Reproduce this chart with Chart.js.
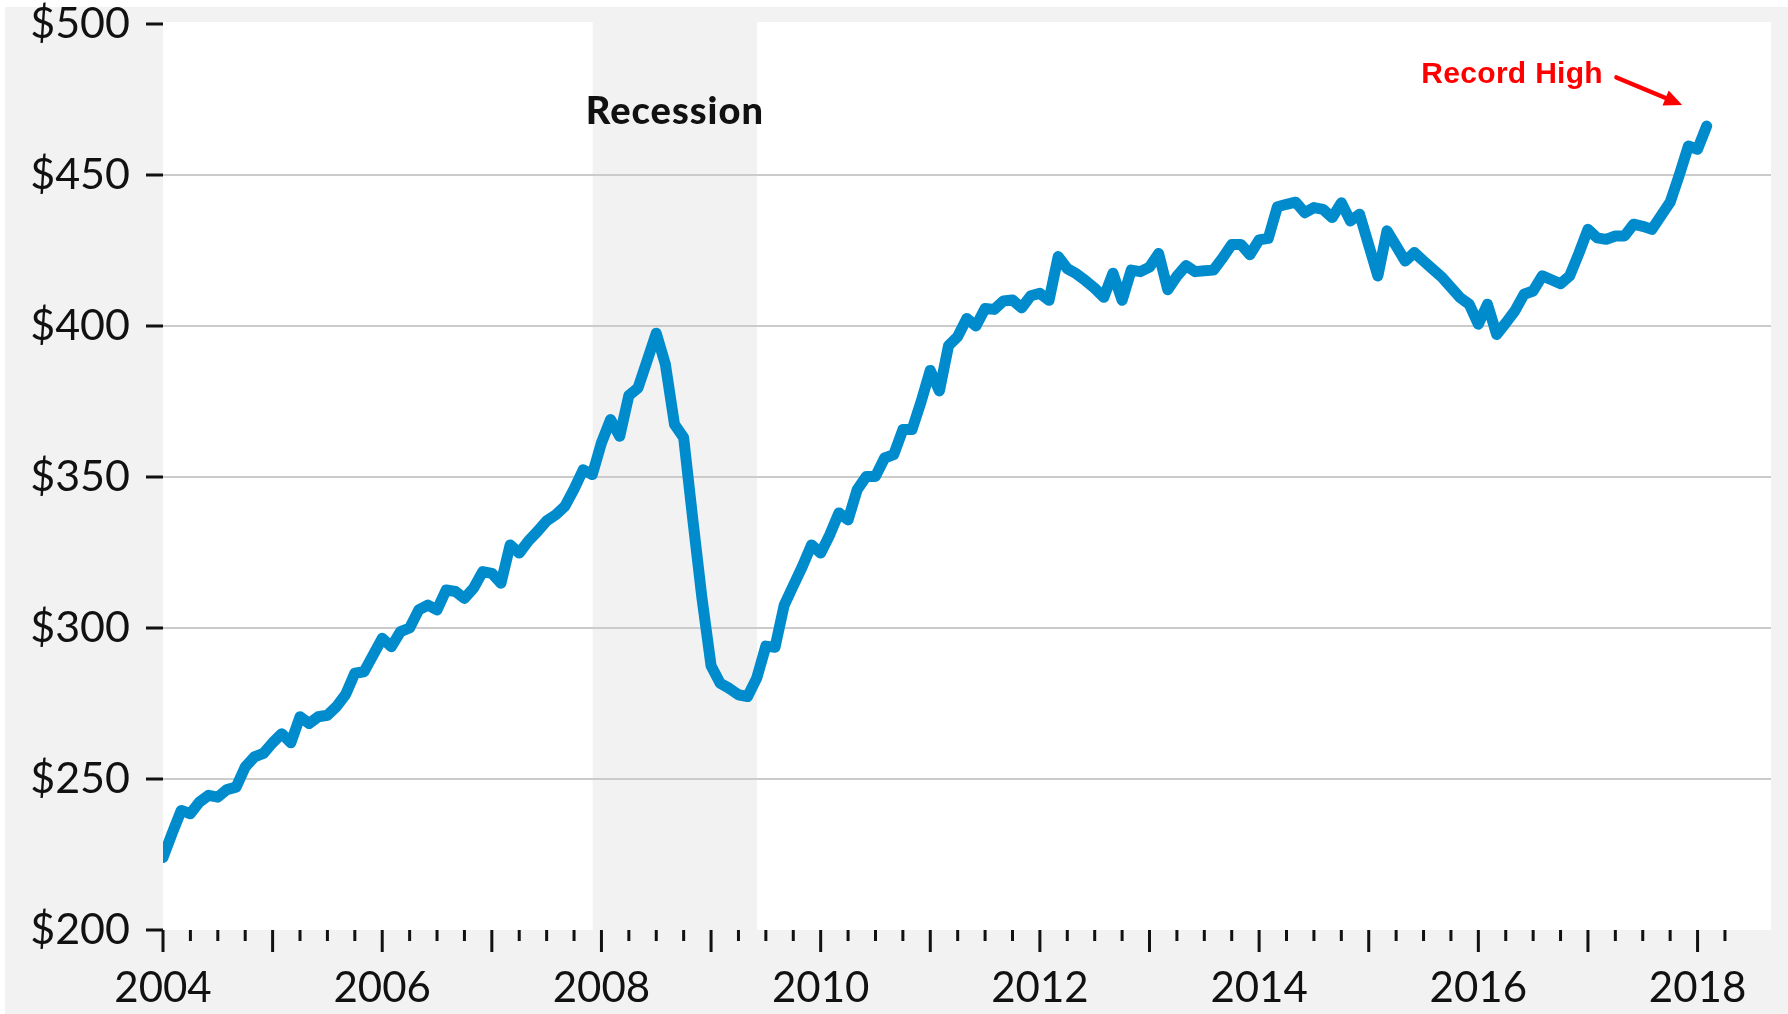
<!DOCTYPE html>
<html>
<head>
<meta charset="utf-8">
<script src="https://cdn.jsdelivr.net/npm/chart.js@4.4.1/dist/chart.umd.min.js"></script>
<style>
  html, body { margin: 0; padding: 0; background: #fff; }
</style>
</head>
<body>
<canvas id="myChart" width="1788" height="1014"></canvas>
<script>
// monthly values, Jan 2004 - Feb 2018
const startYear = 2004;
const p2004 = [224, 232, 239.6, 238.5, 242.4, 244.6, 244, 246.5, 247.3, 254, 257.3, 258.5];
const p2005 = [262, 265, 262, 270.6, 268.4, 270.6, 271.1, 274, 278, 285, 285.5, 291];
const p2006 = [296.6, 293.8, 298.8, 300, 306, 307.6, 306, 312.6, 312.1, 309.8, 313.2, 318.7];
const p2007 = [318.1, 314.8, 327.5, 324.8, 328.8, 332, 335.5, 337.5, 340.3, 346, 352.4, 350.8];
const p2008 = [361.3, 369, 363.5, 377, 379.5, 388.5, 397.6, 387.3, 367.4, 363, 336, 310];
const p2009 = [287.5, 281.7, 280, 277.9, 277.3, 283.4, 294, 293.6, 307.5, 314, 320.4, 327.5];
const p2010 = [324.8, 330.9, 338.1, 335.8, 345.8, 350.2, 350.2, 356.3, 357.4, 365.7, 365.7, 375];
const p2011 = [385.3, 378.5, 393.5, 396.5, 402.5, 400, 405.8, 405.5, 408.3, 408.6, 406, 410];
const p2012 = [410.8, 408.5, 423, 419, 417.3, 415, 412.5, 409.5, 417.5, 408.5, 418.5, 418];
const p2013 = [419.5, 424, 412, 416.5, 420, 418, 418.3, 418.5, 422.5, 427, 427, 423.6];
const p2014 = [428.5, 429, 439.5, 440.3, 441, 437.5, 439.2, 438.6, 435.9, 440.8, 434.8, 437];
const p2015 = [426.8, 416.6, 431.5, 426.5, 421.5, 424.3, 421.5, 418.8, 416.2, 412.8, 409.4, 407.2];
const p2016 = [400.6, 407.2, 397.2, 401, 405, 410.5, 411.6, 416.6, 415.3, 414, 416.6, 424];
const p2017 = [432, 429.2, 428.7, 429.8, 429.8, 433.7, 433, 432, 436.5, 441, 450, 459.6];
const p2018 = [458.5, 466.2];

const yearLabels = ['2004', '2006', '2008', '2010', '2012', '2014', '2016', '2018'];
const recession = [2007.92, 2009.42]; // Dec 2007 - Jun 2009

const prices = [].concat(p2004, p2005, p2006, p2007, p2008, p2009, p2010,
  p2011, p2012, p2013, p2014, p2015, p2016, p2017, p2018);
const points = prices.map((v, i) => ({ x: startYear + i / 12, y: v }));

const gray = '#f2f2f2';
const ink = '#111111';

// backgrounds: gray frame, white plot, gray recession band
const backdrop = {
  id: 'backdrop',
  beforeDraw(chart) {
    const { ctx, chartArea: a, scales: { x } } = chart;
    ctx.save();
    ctx.fillStyle = '#ffffff';
    ctx.fillRect(0, 0, chart.width, chart.height);
    ctx.fillStyle = gray;
    ctx.fillRect(5, 7, chart.width - 5, chart.height - 7);
    ctx.fillStyle = '#ffffff';
    ctx.fillRect(a.left, a.top - 2, a.width, a.height + 2);
    const x0 = x.getPixelForValue(recession[0]);
    const x1 = x.getPixelForValue(recession[1]);
    ctx.fillStyle = gray;
    ctx.fillRect(x0, a.top - 2, x1 - x0, a.height + 2);
    ctx.restore();
  }
};

// year ticks long, quarter ticks short
const xTicks = {
  id: 'xTicks',
  afterDraw(chart) {
    const { ctx, chartArea: a, scales: { x } } = chart;
    ctx.save();
    ctx.strokeStyle = ink;
    ctx.lineWidth = 3;
    x.ticks.forEach(t => {
      const px = x.getPixelForValue(t.value);
      const major = Math.abs(t.value - Math.round(t.value)) < 1e-6;
      ctx.beginPath();
      ctx.moveTo(px, a.bottom);
      ctx.lineTo(px, a.bottom + (major ? 22 : 11));
      ctx.stroke();
    });
    ctx.restore();
  }
};

// text labels and arrow
const notes = {
  id: 'notes',
  afterDatasetsDraw(chart) {
    const { ctx, scales: { x, y } } = chart;
    ctx.save();
    ctx.fillStyle = ink;
    ctx.font = '900 38px Lato';
    ctx.letterSpacing = '1px';
    ctx.textAlign = 'center';
    ctx.textBaseline = 'middle';
    ctx.fillText('Recession', x.getPixelForValue((recession[0] + recession[1]) / 2), y.getPixelForValue(471));

    ctx.fillStyle = '#ff0000';
    ctx.font = 'bold 30px "Liberation Sans"';
    ctx.letterSpacing = '0.3px';
    ctx.textAlign = 'left';
    ctx.textBaseline = 'alphabetic';
    ctx.fillText('Record High', x.getPixelForValue(2015.48), y.getPixelForValue(480.4));

    const ax0 = x.getPixelForValue(2017.26), ay0 = y.getPixelForValue(482.3);
    const ax1 = x.getPixelForValue(2017.86), ay1 = y.getPixelForValue(473.2);
    const ang = Math.atan2(ay1 - ay0, ax1 - ax0);
    const head = 18, half = 8;
    const bx = ax1 - head * Math.cos(ang), by = ay1 - head * Math.sin(ang);
    ctx.strokeStyle = '#ff0000';
    ctx.lineWidth = 4.5;
    ctx.lineCap = 'round';
    ctx.beginPath();
    ctx.moveTo(ax0, ay0);
    ctx.lineTo(bx, by);
    ctx.stroke();
    ctx.beginPath();
    ctx.moveTo(ax1, ay1);
    ctx.lineTo(bx + half * Math.sin(ang), by - half * Math.cos(ang));
    ctx.lineTo(bx - half * Math.sin(ang), by + half * Math.cos(ang));
    ctx.closePath();
    ctx.fill();
    ctx.restore();
  }
};

const data = {
  datasets: [{
    label: 'Price',
    data: points,
    borderColor: '#008bcd',
    borderWidth: 11,
    borderJoinStyle: 'round',
    borderCapStyle: 'round',
    pointRadius: 0,
    tension: 0,
    fill: false
  }]
};

const config = {
  type: 'line',
  data: data,
  options: {
    responsive: false,
    animation: false,
    layout: { padding: { left: 0, right: 17, top: 24, bottom: 0 } },
    plugins: {
      legend: { display: false },
      tooltip: { enabled: false }
    },
    scales: {
      x: {
        type: 'linear',
        min: 2004,
        max: 2018.67,
        afterBuildTicks: (s) => {
          s.ticks = s.ticks.filter(t => Math.abs(t.value * 4 - Math.round(t.value * 4)) < 1e-6);
        },
        afterFit: (s) => { s.height = 84; s.paddingLeft = 0; s.paddingRight = 0; },
        border: { display: false },
        grid: { drawOnChartArea: false, tickLength: 22, tickColor: 'rgba(0,0,0,0)' },
        ticks: {
          stepSize: 0.25,
          autoSkip: false,
          maxRotation: 0,
          padding: 11,
          color: ink,
          font: { family: 'Lato', size: 42 },
          callback: (v) => {
            const yr = String(Math.round(v));
            return Math.abs(v - Math.round(v)) < 1e-6 && yearLabels.includes(yr) ? yr : '';
          }
        }
      },
      y: {
        min: 200,
        max: 500,
        afterFit: (s) => { s.width = 163; s.paddingTop = 0; s.paddingBottom = 0; },
        border: { display: false },
        grid: {
          color: (c) => (c.tick && (c.tick.value === 200 || c.tick.value === 500)) ? 'rgba(0,0,0,0)' : '#cbcbcb',
          lineWidth: 2,
          tickLength: 17,
          tickWidth: 3,
          tickColor: ink
        },
        ticks: {
          stepSize: 50,
          padding: 16,
          color: ink,
          font: { family: 'Lato', size: 43 },
          callback: (v) => '$' + v
        }
      }
    }
  },
  plugins: [backdrop, xTicks, notes]
};

const ctx = document.getElementById('myChart').getContext('2d');
const myChart = new Chart(ctx, config);
</script>
</body>
</html>
